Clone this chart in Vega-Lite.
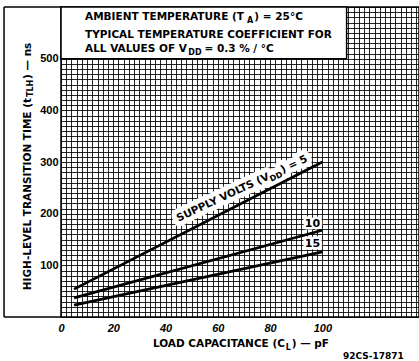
{
  "$schema": "https://vega.github.io/schema/vega-lite/v6.json",
  "width": 358,
  "height": 310,
  "autosize": {"type": "none"},
  "padding": {"left": 61, "top": 7, "right": 0, "bottom": 44},
  "background": "white",
  "config": {"view": {"stroke": "black", "strokeWidth": 1.5}, "font": "DejaVu Sans", "text": {"fontWeight": "bold"}},
  "datasets": {
    "curves": [
      {"C": 5, "t": 54, "vdd": "5"}, {"C": 100, "t": 300, "vdd": "5"},
      {"C": 5, "t": 37, "vdd": "10"}, {"C": 100, "t": 168, "vdd": "10"},
      {"C": 5, "t": 23, "vdd": "15"}, {"C": 100, "t": 126, "vdd": "15"}
    ],
    "box": [{"C": 0, "C2": 109.3, "t": 500, "t2": 600}],
    "frame": [
      {"C": -21.8, "C2": -21.8, "t": 0, "t2": 600},
      {"C": -21.8, "C2": 0, "t": 600, "t2": 600},
      {"C": -21.8, "C2": 0, "t": 0, "t2": 0}
    ],
    "notes": [
      {"C": 9.2, "t": 574.8, "label": "AMBIENT TEMPERATURE (T", "kind": "hL"},
      {"C": 71.2, "t": 574.8, "label": "A", "kind": "hS"},
      {"C": 74.0, "t": 574.8, "label": ") = 25°C", "kind": "hL"},
      {"C": 9.2, "t": 540.0, "label": "TYPICAL TEMPERATURE COEFFICIENT FOR", "kind": "hL"},
      {"C": 9.2, "t": 512.9, "label": "ALL VALUES OF V", "kind": "hL"},
      {"C": 48.7, "t": 512.9, "label": "DD", "kind": "hS"},
      {"C": 54.9, "t": 512.9, "label": "= 0.3 % / °C", "kind": "hL"},
      {"C": 85.7, "t": -58.0, "label": "LOAD CAPACITANCE (C", "kind": "xR"},
      {"C": 86.0, "t": -58.0, "label": "L", "kind": "xS"},
      {"C": 88.3, "t": -58.0, "label": ") — pF", "kind": "xL"},
      {"C": 107.9, "t": -81.2, "label": "92CS-17871", "kind": "code"},
      {"C": -12.6, "t": 423.9, "label": "HIGH-LEVEL TRANSITION TIME (t", "kind": "vR"},
      {"C": -12.6, "t": 425.8, "label": "TLH", "kind": "vS"},
      {"C": -12.6, "t": 460.7, "label": ") — ns", "kind": "vL"},
      {"C": 79.98, "t": 267.1, "label": "SUPPLY VOLTS (V", "kind": "cR"},
      {"C": 79.98, "t": 267.1, "label": "DD", "kind": "cS"},
      {"C": 84.8, "t": 278.4, "label": ") = 5", "kind": "cL"},
      {"C": 96.2, "t": 180.0, "label": "10", "kind": "num"},
      {"C": 96.2, "t": 141.3, "label": "15", "kind": "num"}
    ]
  },
  "encoding": {
    "x": {
      "field": "C", "type": "quantitative",
      "scale": {"domain": [0, 137], "nice": false, "zero": false},
      "axis": {
        "values": [0,2,4,6,8,10,12,14,16,18,20,22,24,26,28,30,32,34,36,38,40,42,44,46,48,50,52,54,56,58,60,62,64,66,68,70,72,74,76,78,80,82,84,86,88,90,92,94,96,98,100,102,104,106,108,110,112,114,116,118,120,122,124,126,128,130,132,134,136],
        "labelExpr": "datum.value % 20 === 0 && datum.value <= 100 ? datum.label : ''",
        "title": null, "ticks": false, "domain": false,
        "grid": true, "gridColor": "#000", "gridOpacity": 0.85, "gridWidth": 1,
        "labelFont": "Liberation Sans", "labelFontSize": 11, "labelFontStyle": "italic", "labelFontWeight": "bold",
        "labelColor": "#000", "labelPadding": 5, "labelFlush": false, "labelOverlap": false, "labelBound": false
      }
    },
    "y": {
      "field": "t", "type": "quantitative",
      "scale": {"domain": [0, 600], "nice": false, "zero": false},
      "axis": {
        "values": [0,10,20,30,40,50,60,70,80,90,100,110,120,130,140,150,160,170,180,190,200,210,220,230,240,250,260,270,280,290,300,310,320,330,340,350,360,370,380,390,400,410,420,430,440,450,460,470,480,490,500,510,520,530,540,550,560,570,580,590,600],
        "labelExpr": "datum.value % 100 === 0 && datum.value >= 100 && datum.value <= 500 ? datum.label : ''",
        "title": null, "ticks": false, "domain": false,
        "grid": true, "gridColor": "#000", "gridOpacity": 0.85, "gridWidth": 1,
        "labelFont": "Liberation Sans", "labelFontSize": 11, "labelFontWeight": "bold",
        "labelColor": "#000", "labelPadding": 3, "labelFlush": false, "labelOverlap": false, "labelBound": false
      }
    }
  },
  "layer": [
    {
      "data": {"name": "box"},
      "mark": {"type": "rect", "fill": "white", "stroke": "black", "strokeWidth": 1.5},
      "encoding": {"x2": {"field": "C2"}, "y2": {"field": "t2"}}
    },
    {
      "data": {"name": "frame"},
      "mark": {"type": "rule", "stroke": "black", "strokeWidth": 1.5},
      "encoding": {"x2": {"field": "C2"}, "y2": {"field": "t2"}}
    },
    {
      "data": {"name": "notes"},
      "transform": [{"filter": "datum.kind === 'cR'"}],
      "mark": {"type": "text", "align": "right", "baseline": "alphabetic", "angle": -25, "fontSize": 10.5, "fill": "white", "stroke": "white", "strokeWidth": 10, "strokeJoin": "round"},
      "encoding": {"text": {"field": "label"}}
    },
    {
      "data": {"name": "notes"},
      "transform": [{"filter": "datum.kind === 'cS'"}],
      "mark": {"type": "text", "align": "left", "baseline": "alphabetic", "angle": -25, "dy": 3, "fontSize": 8, "fill": "white", "stroke": "white", "strokeWidth": 11, "strokeJoin": "round"},
      "encoding": {"text": {"field": "label"}}
    },
    {
      "data": {"name": "notes"},
      "transform": [{"filter": "datum.kind === 'cL'"}],
      "mark": {"type": "text", "align": "left", "baseline": "alphabetic", "angle": -25, "fontSize": 10.5, "fill": "white", "stroke": "white", "strokeWidth": 10, "strokeJoin": "round"},
      "encoding": {"text": {"field": "label"}}
    },
    {
      "data": {"name": "notes"},
      "transform": [{"filter": "datum.kind === 'num'"}],
      "mark": {"type": "text", "align": "center", "baseline": "middle", "fontSize": 11, "fill": "white", "stroke": "white", "strokeWidth": 5, "strokeJoin": "round"},
      "encoding": {"text": {"field": "label"}}
    },
    {
      "data": {"name": "curves"},
      "mark": {"type": "line", "stroke": "black", "strokeWidth": 2.7},
      "encoding": {"detail": {"field": "vdd"}}
    },
    {
      "data": {"name": "notes"},
      "transform": [{"filter": "datum.kind === 'cR'"}],
      "mark": {"type": "text", "align": "right", "baseline": "alphabetic", "angle": -25, "fontSize": 10.5, "fill": "black"},
      "encoding": {"text": {"field": "label"}}
    },
    {
      "data": {"name": "notes"},
      "transform": [{"filter": "datum.kind === 'cS'"}],
      "mark": {"type": "text", "align": "left", "baseline": "alphabetic", "angle": -25, "dy": 3, "fontSize": 8, "fill": "black"},
      "encoding": {"text": {"field": "label"}}
    },
    {
      "data": {"name": "notes"},
      "transform": [{"filter": "datum.kind === 'cL'"}],
      "mark": {"type": "text", "align": "left", "baseline": "alphabetic", "angle": -25, "fontSize": 10.5, "fill": "black"},
      "encoding": {"text": {"field": "label"}}
    },
    {
      "data": {"name": "notes"},
      "transform": [{"filter": "datum.kind === 'num'"}],
      "mark": {"type": "text", "align": "center", "baseline": "middle", "fontSize": 11, "fill": "black"},
      "encoding": {"text": {"field": "label"}}
    },
    {
      "data": {"name": "notes"},
      "transform": [{"filter": "datum.kind === 'hL'"}],
      "mark": {"type": "text", "align": "left", "baseline": "alphabetic", "fontSize": 10.5, "fill": "black"},
      "encoding": {"text": {"field": "label"}}
    },
    {
      "data": {"name": "notes"},
      "transform": [{"filter": "datum.kind === 'hS'"}],
      "mark": {"type": "text", "align": "left", "baseline": "alphabetic", "dy": 3, "fontSize": 8, "fill": "black"},
      "encoding": {"text": {"field": "label"}}
    },
    {
      "data": {"name": "notes"},
      "transform": [{"filter": "datum.kind === 'xR'"}],
      "mark": {"type": "text", "align": "right", "baseline": "alphabetic", "fontSize": 10.5, "fill": "black"},
      "encoding": {"text": {"field": "label"}}
    },
    {
      "data": {"name": "notes"},
      "transform": [{"filter": "datum.kind === 'xS'"}],
      "mark": {"type": "text", "align": "left", "baseline": "alphabetic", "dy": 3, "fontSize": 8, "fill": "black"},
      "encoding": {"text": {"field": "label"}}
    },
    {
      "data": {"name": "notes"},
      "transform": [{"filter": "datum.kind === 'xL'"}],
      "mark": {"type": "text", "align": "left", "baseline": "alphabetic", "fontSize": 10.5, "fill": "black"},
      "encoding": {"text": {"field": "label"}}
    },
    {
      "data": {"name": "notes"},
      "transform": [{"filter": "datum.kind === 'code'"}],
      "mark": {"type": "text", "align": "left", "baseline": "alphabetic", "fontSize": 9, "fill": "black"},
      "encoding": {"text": {"field": "label"}}
    },
    {
      "data": {"name": "notes"},
      "transform": [{"filter": "datum.kind === 'vR'"}],
      "mark": {"type": "text", "align": "right", "baseline": "middle", "angle": 270, "fontSize": 10.5, "fill": "black"},
      "encoding": {"text": {"field": "label"}}
    },
    {
      "data": {"name": "notes"},
      "transform": [{"filter": "datum.kind === 'vS'"}],
      "mark": {"type": "text", "align": "left", "baseline": "middle", "angle": 270, "dy": 3, "fontSize": 8, "fill": "black"},
      "encoding": {"text": {"field": "label"}}
    },
    {
      "data": {"name": "notes"},
      "transform": [{"filter": "datum.kind === 'vL'"}],
      "mark": {"type": "text", "align": "left", "baseline": "middle", "angle": 270, "fontSize": 10.5, "fill": "black"},
      "encoding": {"text": {"field": "label"}}
    }
  ]
}
